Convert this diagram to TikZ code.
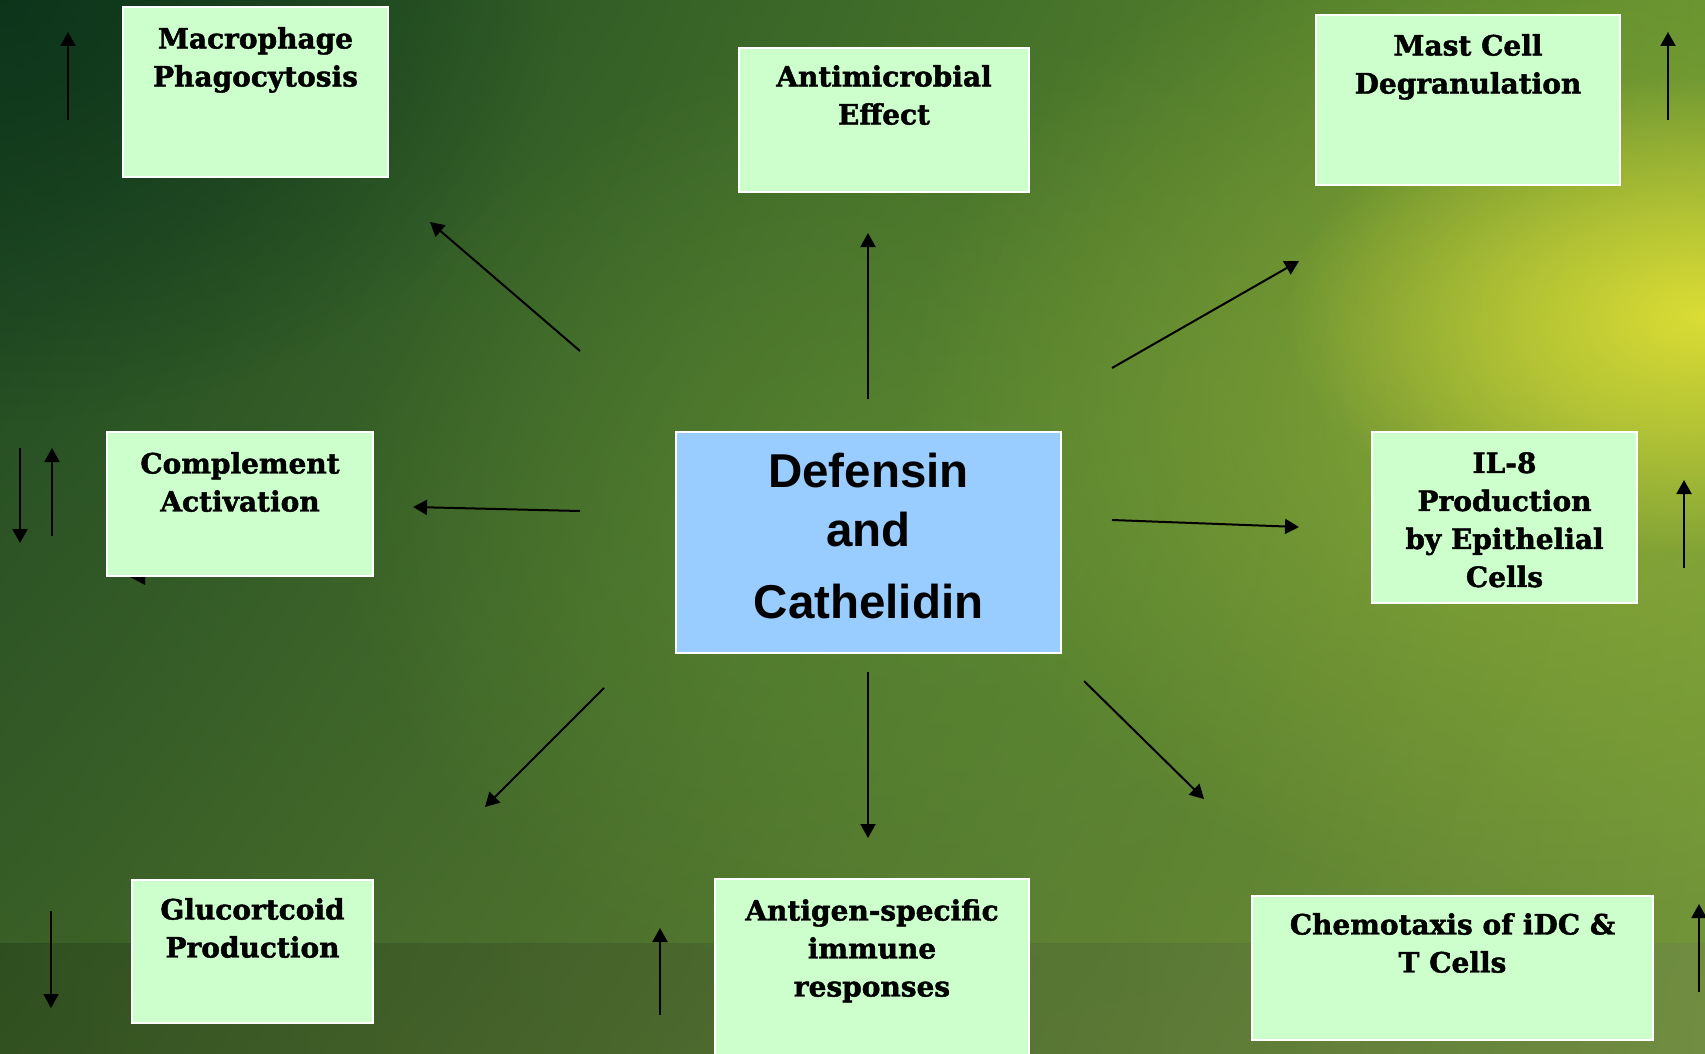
\documentclass[tikz,border=0pt]{standalone}
\usepackage{fontspec}
\setmainfont{DejaVu Serif}[BoldFeatures={FakeBold=1.6}]
\newfontfamily\headfont{Liberation Sans}
\usetikzlibrary{arrows.meta,fadings,shadings}
\definecolor{boxgreen}{HTML}{CCFFCC}
\definecolor{boxblue}{HTML}{99CCFF}
\definecolor{bgUL}{HTML}{1A4522}
\definecolor{bgUR}{HTML}{62902F}
\definecolor{bgLL}{HTML}{3C6127}
\definecolor{bgLR}{HTML}{74953A}
\definecolor{bgmid}{HTML}{5C8A31}
\definecolor{dark}{HTML}{0B331A}
\definecolor{tint}{HTML}{9DB83A}
\definecolor{glow}{HTML}{E0E034}
\tikzfading[name=softglow, inner color=transparent!0, outer color=transparent!100]
\tikzfading[name=softglowb, inner color=transparent!20, outer color=transparent!100]
\tikzset{
  gbox/.style={draw=white, line width=2pt, fill=boxgreen, inner sep=0pt},
  cbox/.style={draw=white, line width=2pt, fill=boxblue, inner sep=0pt},
  btxt/.style={anchor=north, inner sep=0pt, align=center, font=\fontsize{28}{38}\selectfont\bfseries},
  arr/.style={line width=2pt, -{Triangle[length=14pt,width=15pt]}},
}
\begin{document}
\begin{tikzpicture}[x=1pt,y=-1pt]
\useasboundingbox (0,0) rectangle (1705,1054);
% background
\shade[upper left=bgUL, upper right=bgUR, lower left=bgLL, lower right=bgLR] (0,0) rectangle (1705,1054);
\fill[dark, path fading=softglow, opacity=0.9] (0,0) ellipse (560 and 420);
\fill[bgmid, path fading=softglow, opacity=0.75] (950,520) ellipse (620 and 500);
\fill[tint, path fading=softglowb, opacity=0.8] (1600,400) ellipse (700 and 520);
\fill[glow, path fading=softglow, opacity=0.95] (1705,316) ellipse (420 and 240);
\shade[left color=black, right color=black!60, opacity=0.16] (0,943) rectangle (1705,1054);
% hidden arrow remnant
\fill (130,577) -- (145,577) -- (145,585) -- cycle;
% boxes
\node[gbox, minimum width=265pt, minimum height=170pt] (mac) at (255.5,92) {};
\node[btxt] (mact) at (255.5,27) {Macrophage\\Phagocytosis};
\node[gbox, minimum width=290pt, minimum height=144pt] (anti) at (884,120) {};
\node[btxt] (antit) at (884,65) {Antimicrobial\\Effect};
\node[gbox, minimum width=304pt, minimum height=170pt] (mast) at (1468,100) {};
\node[btxt] (mastt) at (1468,34) {Mast Cell\\Degranulation};
\node[gbox, minimum width=266pt, minimum height=144pt] (comp) at (240,504) {};
\node[btxt] (compt) at (240,452) {Complement\\Activation};
\node[cbox, minimum width=385pt, minimum height=221pt] (ctr) at (868.5,542.5) {};
\node[anchor=north, inner sep=0pt, align=center, font=\headfont\fontsize{47.5}{59}\selectfont\bfseries] (ctrt) at (868.5,453) {Defensin\\and\\[13pt]Cathelidin};
\node[gbox, minimum width=265pt, minimum height=171pt] (il) at (1504.5,517.5) {};
\node[btxt] (ilt) at (1504.5,452) {IL-8\\Production\\by Epithelial\\Cells};
\node[gbox, minimum width=241pt, minimum height=143pt] (glu) at (252.5,951.5) {};
\node[btxt] (glut) at (252.5,898) {Glucortcoid\\Production};
\node[gbox, minimum width=314pt, minimum height=184pt] (ant) at (872,971) {};
\node[btxt] (antt) at (872,899) {Antigen-specific\\immune\\responses};
\node[gbox, minimum width=401pt, minimum height=144pt] (che) at (1452.5,968) {};
\node[btxt] (chet) at (1452.5,913) {Chemotaxis of iDC \&\\T Cells};
% arrow end points
\coordinate (a1s) at (580,351); \coordinate (a1e) at (430,222);
\coordinate (a2s) at (868,399); \coordinate (a2e) at (868,233);
\coordinate (a3s) at (1112,368); \coordinate (a3e) at (1299,261);
\coordinate (a4s) at (580,511); \coordinate (a4e) at (413,507);
\coordinate (a5s) at (1112,520); \coordinate (a5e) at (1299,527);
\coordinate (a6s) at (604,688); \coordinate (a6e) at (485,807);
\coordinate (a7s) at (868,672); \coordinate (a7e) at (868,838);
\coordinate (a8s) at (1084,681); \coordinate (a8e) at (1204,799);
\foreach \i in {1,...,8} {\draw[arr] (a\i s) -- (a\i e);}
% side indicators
\coordinate (m1) at (68,120); \coordinate (m2) at (68,32);
\coordinate (c1) at (20,448); \coordinate (c2) at (20,543);
\coordinate (c3) at (52,536); \coordinate (c4) at (52,448);
\coordinate (s1) at (1668,120); \coordinate (s2) at (1668,32);
\coordinate (i1) at (1684,568); \coordinate (i2) at (1684,480);
\coordinate (g1) at (51,911); \coordinate (g2) at (51,1008);
\coordinate (n1) at (660,1015); \coordinate (n2) at (660,928);
\coordinate (h1) at (1699,992); \coordinate (h2) at (1699,904);
\draw[arr] (m1) -- (m2);
\draw[arr] (c1) -- (c2);
\draw[arr] (c3) -- (c4);
\draw[arr] (s1) -- (s2);
\draw[arr] (i1) -- (i2);
\draw[arr] (g1) -- (g2);
\draw[arr] (n1) -- (n2);
\draw[arr] (h1) -- (h2);
\end{tikzpicture}
\end{document}
